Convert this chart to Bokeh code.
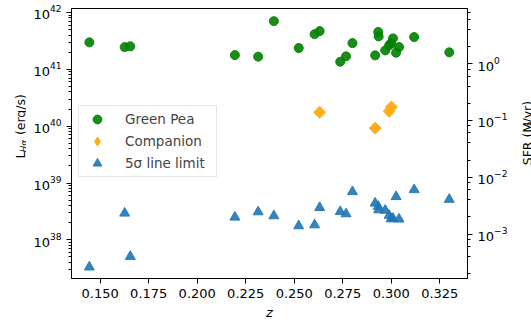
import numpy as np
from bokeh.plotting import figure
from bokeh.layouts import row
from bokeh.models import Range1d, LogScale, LogAxis, FixedTicker, NumeralTickFormatter
from bokeh.core.properties import value
from bokeh.embed import file_html
from bokeh.resources import INLINE

# ---- data ----
z_gp = [0.1444, 0.1626, 0.1655, 0.2194, 0.2314, 0.2395, 0.2523, 0.2605, 0.2631, 0.2737,
        0.2767, 0.2800, 0.2917, 0.2933, 0.2935, 0.2969, 0.2989, 0.2999, 0.3009, 0.3025,
        0.3040, 0.3118, 0.3299]
L_gp = [2.98e41, 2.46e41, 2.54e41, 1.78e41, 1.67e41, 7.03e41, 2.37e41, 4.16e41, 4.70e41, 1.36e41,
        1.69e41, 2.89e41, 1.76e41, 4.55e41, 3.79e41, 2.15e41, 2.64e41, 2.86e41, 3.50e41, 1.96e41,
        2.46e41, 3.69e41, 1.99e41]
z_comp = [0.2631, 0.2917, 0.2989, 0.3001]
L_comp = [1.76e40, 9.23e39, 1.83e40, 2.18e40]
z_lim = [0.1444, 0.1626, 0.1655, 0.2194, 0.2314, 0.2395, 0.2523, 0.2605, 0.2631, 0.2737,
         0.2767, 0.2800, 0.2917, 0.2933, 0.2935, 0.2969, 0.2989, 0.2999, 0.3009, 0.3025,
         0.3040, 0.3118, 0.3299]
L_lim = [3.32e37, 2.94e38, 5.09e37, 2.50e38, 3.10e38, 2.64e38, 1.76e38, 1.83e38, 3.69e38, 3.13e38,
         2.86e38, 7.03e38, 4.41e38, 3.87e38, 3.36e38, 3.30e38, 2.69e38, 2.33e38, 2.38e38, 5.75e38,
         2.31e38, 7.62e38, 5.14e38]
x_ticks = [0.150, 0.175, 0.200, 0.225, 0.250, 0.275, 0.300, 0.325]
SFR_PER_L = 7.9e-42

FONT = "DejaVu Sans"
X0, X1 = 0.1352, 0.3393
Y0, Y1 = 10 ** 37.32, 10 ** 42.07
H = 322
LW, RW = 26, 21          # widths of the label strips
MW = 531 - LW - RW       # main figure width

p = figure(width=MW, height=H, x_range=Range1d(X0, X1), y_range=Range1d(Y0, Y1),
           y_axis_type="log", output_backend="svg", toolbar_location=None,
           min_border_left=71 - LW, min_border_right=MW + LW - 470, min_border_top=8,
           min_border_bottom=43, background_fill_color="white", border_fill_color="white")
p.grid.visible = False
p.outline_line_color = "black"
p.outline_line_width = 1

p.extra_y_ranges = {"sfr": Range1d(Y0 * SFR_PER_L, Y1 * SFR_PER_L)}
p.extra_y_scales = {"sfr": LogScale()}
right = LogAxis(y_range_name="sfr")
p.add_layout(right, "right")

xax = p.xaxis[0]
lax = p.yaxis[0]
for ax in (xax, lax, right):
    ax.major_tick_out = 5
    ax.major_tick_in = 0
    ax.minor_tick_out = 3
    ax.minor_tick_in = 0
    ax.axis_line_color = "black"
    ax.major_tick_line_color = "black"
    ax.minor_tick_line_color = "black"
    ax.major_label_text_font = FONT
    ax.major_label_text_font_size = "13px"
    ax.major_label_text_color = "black"
    ax.major_label_standoff = 5

xax.ticker = FixedTicker(ticks=x_ticks, minor_ticks=[])
xax.formatter = NumeralTickFormatter(format="0.000")
xax.axis_label = "z"
xax.axis_label_text_font = FONT
xax.axis_label_text_font_style = "italic"
xax.axis_label_text_font_size = "13px"
xax.axis_label_text_color = "black"
xax.axis_label_standoff = 4

p.scatter(z_gp, L_gp, marker="circle", size=9, color="green", alpha=0.9, legend_label="Green Pea")
# diamond used for the legend entry (hidden beneath the rotated squares in the plot)
p.scatter(z_comp, L_comp, marker="diamond", size=8, color="orange", alpha=0.9,
          legend_label="Companion")
p.scatter(z_comp, L_comp, marker="square", angle=np.pi / 4, size=8.5, color="#ffae1a")
p.scatter(z_lim, L_lim, marker="triangle", size=10, color="#1f77b4", alpha=0.9,
          legend_label="5σ line limit")

lg = p.legend[0]
lg.location = (7, 101)
lg.padding = 2
lg.spacing = 0
lg.margin = 0
lg.glyph_width = 32
lg.glyph_height = 22
lg.label_height = 22
lg.label_standoff = 12
lg.label_width = 89
lg.label_text_font = FONT
lg.label_text_font_size = "13.5px"
lg.border_line_color = "#cccccc"
lg.border_line_width = 1
lg.background_fill_alpha = 0.8


def strip(width):
    f = figure(width=width, height=H, x_range=Range1d(0, width), y_range=Range1d(0, H),
               output_backend="svg", toolbar_location=None, min_border=0,
               x_axis_location=None, y_axis_location=None,
               background_fill_color="white", border_fill_color="white")
    f.grid.visible = False
    f.outline_line_color = None
    return f


def vtext(f, text, x, cy, size, style="normal"):
    f.text(x=[x], y=[H - cy], text=[text], angle=np.pi / 2, text_font=value(FONT),
           text_font_size=value(f"{size}px"), text_font_style=value(style),
           text_align=value("left"), text_baseline=value("alphabetic"), text_color="black")


left = strip(LW)
vtext(left, "L", 20, 179, 12.5)
vtext(left, "Hα", 23, 171.5, 8.75, "italic")
vtext(left, "(erg/s)", 20, 151, 12.5)

rightf = strip(RW)
vtext(rightf, "SFR (M", 16.5, 187, 12.5)
vtext(rightf, "⊙", 19, 143.5, 8.75)
vtext(rightf, "/yr)", 16.5, 136, 12.5)

layout = row(left, p, rightf, spacing=0)
open("out.html", "w").write(file_html(layout, INLINE))
